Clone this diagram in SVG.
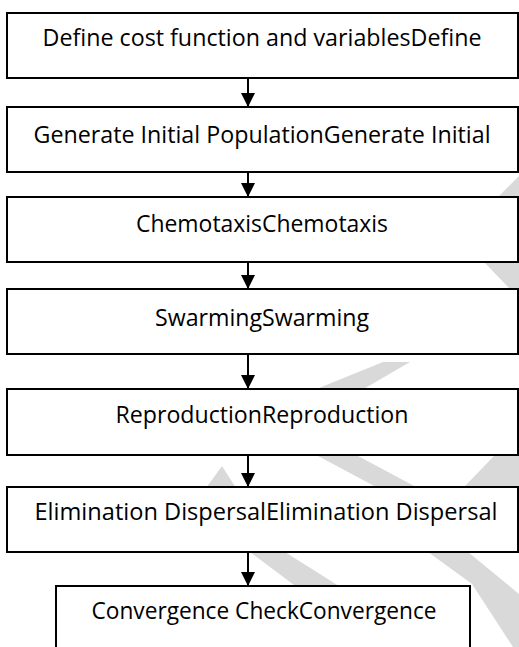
<svg xmlns="http://www.w3.org/2000/svg" width="519" height="647" viewBox="0 0 519 647">
  <defs>
    <marker id="head" markerWidth="14" markerHeight="14" refX="14" refY="7" orient="auto" markerUnits="userSpaceOnUse">
      <path d="M0,0 L14,7 L0,14 Z" fill="#000"/>
    </marker>
  </defs>
  <style>
    .box { fill: #fff; stroke: #000; stroke-width: 2; }
    .lbl { font-family: "Open Sans", "Noto Sans", "Liberation Sans", sans-serif; font-size: 23px; fill: #000; text-anchor: middle; }
    .wm { fill: #d9d9d9; }
    .edge { stroke: #000; stroke-width: 2; fill: none; marker-end: url(#head); }
  </style>
  <rect width="519" height="647" fill="#fff"/>

  <!-- page watermark, mostly hidden behind the boxes -->
  <g id="watermark">
    <polygon class="wm" points="519,176 519,199 496,199"/>
    <polygon class="wm" points="483,261 519,261 519,290 511,290"/>
    <polygon class="wm" points="383,362 410,362 362,390 314,390"/>
    <polygon class="wm" points="206,488 222,466 236,488"/>
    <polygon class="wm" points="318,456 358,456 418,488 378,488"/>
    <polygon class="wm" points="495,455 519,455 519,488 463,488"/>
    <polygon class="wm" points="250,552 285,552 342,588 298,588"/>
    <polygon class="wm" points="428,552 468,552 519,594 519,647 513,647 472,584"/>
  </g>

  <g id="connectors">
    <line class="edge" x1="248" y1="78" x2="248" y2="107"/>
    <line class="edge" x1="248" y1="172" x2="248" y2="197"/>
    <line class="edge" x1="248" y1="262" x2="248" y2="289"/>
    <line class="edge" x1="248" y1="354" x2="248" y2="389"/>
    <line class="edge" x1="248" y1="455" x2="248" y2="487"/>
    <line class="edge" x1="248" y1="552" x2="248" y2="586"/>
  </g>

  <g id="define">
    <rect class="box" x="7" y="13" width="511" height="65"/>
    <text class="lbl" x="262" y="46" textLength="439" lengthAdjust="spacingAndGlyphs">Define cost function and variablesDefine</text>
  </g>
  <g id="init">
    <rect class="box" x="7" y="107" width="511" height="65"/>
    <text class="lbl" x="262" y="143" textLength="457" lengthAdjust="spacingAndGlyphs">Generate Initial PopulationGenerate Initial</text>
  </g>
  <g id="chemotaxis">
    <rect class="box" x="7" y="197" width="511" height="65"/>
    <text class="lbl" x="262" y="232" textLength="252" lengthAdjust="spacingAndGlyphs">ChemotaxisChemotaxis</text>
  </g>
  <g id="swarming">
    <rect class="box" x="7" y="289" width="511" height="65"/>
    <text class="lbl" x="262" y="326" textLength="214" lengthAdjust="spacingAndGlyphs">SwarmingSwarming</text>
  </g>
  <g id="reproduction">
    <rect class="box" x="7" y="389" width="511" height="66"/>
    <text class="lbl" x="262" y="423" textLength="293" lengthAdjust="spacingAndGlyphs">ReproductionReproduction</text>
  </g>
  <g id="elimination">
    <rect class="box" x="7" y="487" width="511" height="65"/>
    <text class="lbl" x="266" y="520" textLength="463" lengthAdjust="spacingAndGlyphs">Elimination DispersalElimination Dispersal</text>
  </g>
  <g id="convergence">
    <rect class="box" x="56" y="586" width="414" height="80"/>
    <text class="lbl" x="264" y="619" textLength="345" lengthAdjust="spacingAndGlyphs">Convergence CheckConvergence</text>
  </g>
</svg>
